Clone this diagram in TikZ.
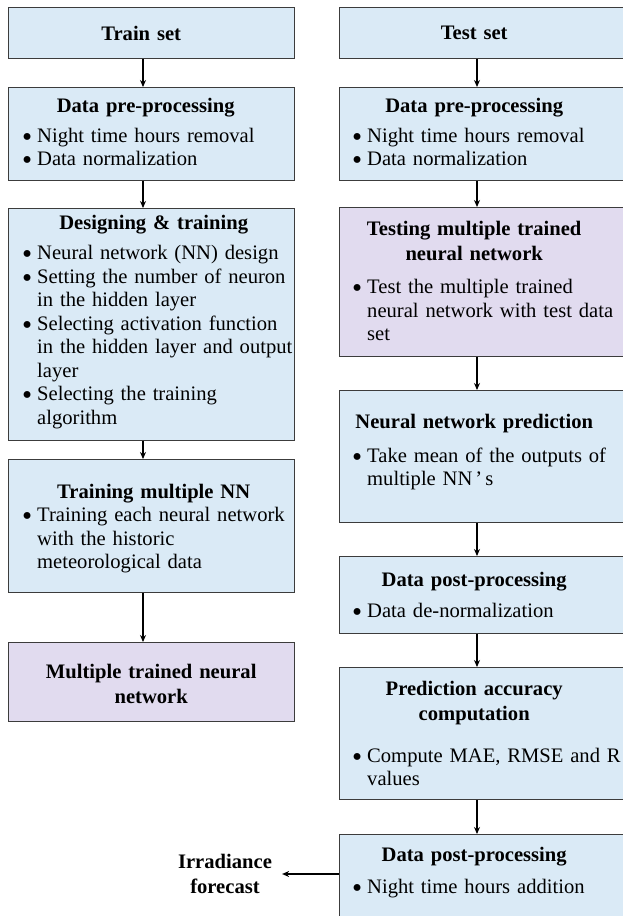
\documentclass[tikz,border=0pt]{standalone}
\usepackage{fontspec}
\setmainfont{Liberation Serif}
\usetikzlibrary{arrows.meta}

\definecolor{boxblue}{HTML}{DAEAF6}
\definecolor{boxlilac}{HTML}{E1DBEF}
\definecolor{edge}{HTML}{3C3C3C}

% centred bold heading; #1 pulls the line centre to the left by half its value
\newcommand\boxtitle[2][0pt]{{\centering\rightskip=#1 plus 1fil\relax
  \bfseries\baselineskip=25pt #2\par}}
% enlarged round bullet sitting at mid x-height
\newcommand\bulletmark{\raisebox{-4pt}[0pt][0pt]{\scalebox{1.4}{\textbullet}}}
% bullet item with hanging indent
\newcommand\bitem[1]{\par\hangindent=15pt\hangafter=1\noindent
  \makebox[15pt][l]{\bulletmark}#1\par}

\tikzset{
  panel/.style={draw=edge, line width=1.1pt, anchor=north west, inner sep=0pt},
  bluepanel/.style={panel, fill=boxblue},
  lilacpanel/.style={panel, fill=boxlilac},
  body/.style={anchor=west, inner sep=0pt, text width=272pt, align=left,
    font=\fontsize{20.6}{23.5}\selectfont},
  flow/.style={line width=1.4pt, -{Stealth[length=7pt,width=6pt]}},
}

\begin{document}
\begin{tikzpicture}[x=1pt, y=-1pt]
\path[use as bounding box, clip] (0,0) rectangle (623,916);
\fill[white] (0,0) rectangle (623,916);

% ---------------- training column ----------------
\node[bluepanel, minimum width=286pt, minimum height=51pt] (trainset) at (8,7) {};
\node[body] (trainset-t) at ([xshift=14pt]trainset.west) {\boxtitle[34pt]{Train set}};

\node[bluepanel, minimum width=286pt, minimum height=93pt] (ldp) at (8,87) {};
\node[body] (ldp-t) at ([xshift=14pt, yshift=2pt]ldp.west) {%
  \boxtitle[25pt]{Data pre-processing}\vspace{6pt}%
  \bitem{Night time hours removal}%
  \bitem{Data normalization}};

\node[bluepanel, minimum width=286pt, minimum height=232pt] (ldt) at (8,208) {};
\node[body] (ldt-t) at ([xshift=14pt, yshift=2.5pt]ldt.west) {%
  \boxtitle[9pt]{Designing \& training}\vspace{6.5pt}%
  \bitem{Neural network (NN) design}%
  \bitem{Setting the number of neuron\newline in the hidden layer}%
  \bitem{Selecting activation function\newline in the hidden layer and output\newline layer}%
  \bitem{Selecting the training\newline algorithm}};

\node[bluepanel, minimum width=286pt, minimum height=133pt] (ltm) at (8,459) {};
\node[body] (ltm-t) at ([xshift=14pt, yshift=-2.5pt]ltm.west) {%
  \boxtitle[9pt]{Training multiple NN}%
  \bitem{Training each neural network\newline with the historic\newline meteorological data}};

\node[lilacpanel, minimum width=286pt, minimum height=79pt] (lmt) at (8,642) {};
\node[body] (lmt-t) at ([xshift=14pt, yshift=-2pt]lmt.west) {%
  \boxtitle[14pt]{Multiple trained neural\\network}};

% ---------------- testing column ----------------
\node[bluepanel, minimum width=300pt, minimum height=51pt] (testset) at (339,7) {};
\node[body] (testset-t) at ([xshift=13pt]testset.west) {\boxtitle[28pt]{Test set}};

\node[bluepanel, minimum width=300pt, minimum height=93pt] (rdp) at (339,87) {};
\node[body] (rdp-t) at ([xshift=13pt, yshift=2pt]rdp.west) {%
  \boxtitle[28pt]{Data pre-processing}\vspace{6pt}%
  \bitem{Night time hours removal}%
  \bitem{Data normalization}};

\node[lilacpanel, minimum width=300pt, minimum height=149pt] (rtest) at (339,207) {};
\node[body] (rtest-t) at ([xshift=13pt, yshift=1pt]rtest.west) {%
  \boxtitle[28pt]{Testing multiple trained\\neural network}\vspace{9.5pt}%
  \bitem{Test the multiple trained\newline neural network with test data\newline set}};

\node[bluepanel, minimum width=300pt, minimum height=132pt] (rnp) at (339,390) {};
\node[body] (rnp-t) at ([xshift=13pt, yshift=4.5pt]rnp.west) {%
  \boxtitle[28pt]{Neural network prediction}\vspace{10.5pt}%
  \bitem{Take mean of the outputs of\newline multiple NN\hspace{3pt}’\hspace{3pt}s}};

\node[bluepanel, minimum width=300pt, minimum height=77pt] (rpp) at (339,556) {};
\node[body] (rpp-t) at ([xshift=13pt]rpp.west) {%
  \boxtitle[28pt]{Data post-processing}\vspace{7.5pt}%
  \bitem{Data de-normalization}};

\node[bluepanel, minimum width=300pt, minimum height=132pt] (rpa) at (339,667) {};
\node[body] (rpa-t) at ([xshift=13pt]rpa.west) {%
  \boxtitle[28pt]{Prediction accuracy\\computation}\vspace{18.5pt}%
  \bitem{Compute MAE, RMSE and R\newline values}};

\node[bluepanel, minimum width=300pt, minimum height=84pt] (rlast) at (339,834) {};
\node[body] (rlast-t) at ([xshift=13pt, yshift=3.5pt]rlast.west) {%
  \boxtitle[28pt]{Data post-processing}\vspace{8.5pt}%
  \bitem{Night time hours addition}};

\node[inner xsep=10pt, inner ysep=0pt, align=center,
  font=\fontsize{20.6}{25}\selectfont\bfseries] (irr) at (225,874) {Irradiance\\forecast};

% ---------------- connectors ----------------
\coordinate (lx) at (143,0);
\coordinate (rx) at (477,0);
\draw[flow] (trainset.south -| lx) -- (ldp.north -| lx);
\draw[flow] (ldp.south -| lx) -- (ldt.north -| lx);
\draw[flow] (ldt.south -| lx) -- (ltm.north -| lx);
\draw[flow] (ltm.south -| lx) -- (lmt.north -| lx);

\draw[flow] (testset.south -| rx) -- (rdp.north -| rx);
\draw[flow] (rdp.south -| rx) -- (rtest.north -| rx);
\draw[flow] (rtest.south -| rx) -- (rnp.north -| rx);
\draw[flow] (rnp.south -| rx) -- (rpp.north -| rx);
\draw[flow] (rpp.south -| rx) -- (rpa.north -| rx);
\draw[flow] (rpa.south -| rx) -- (rlast.north -| rx);
\draw[flow] (rlast.west |- irr) -- (irr.east);
\end{tikzpicture}
\end{document}
